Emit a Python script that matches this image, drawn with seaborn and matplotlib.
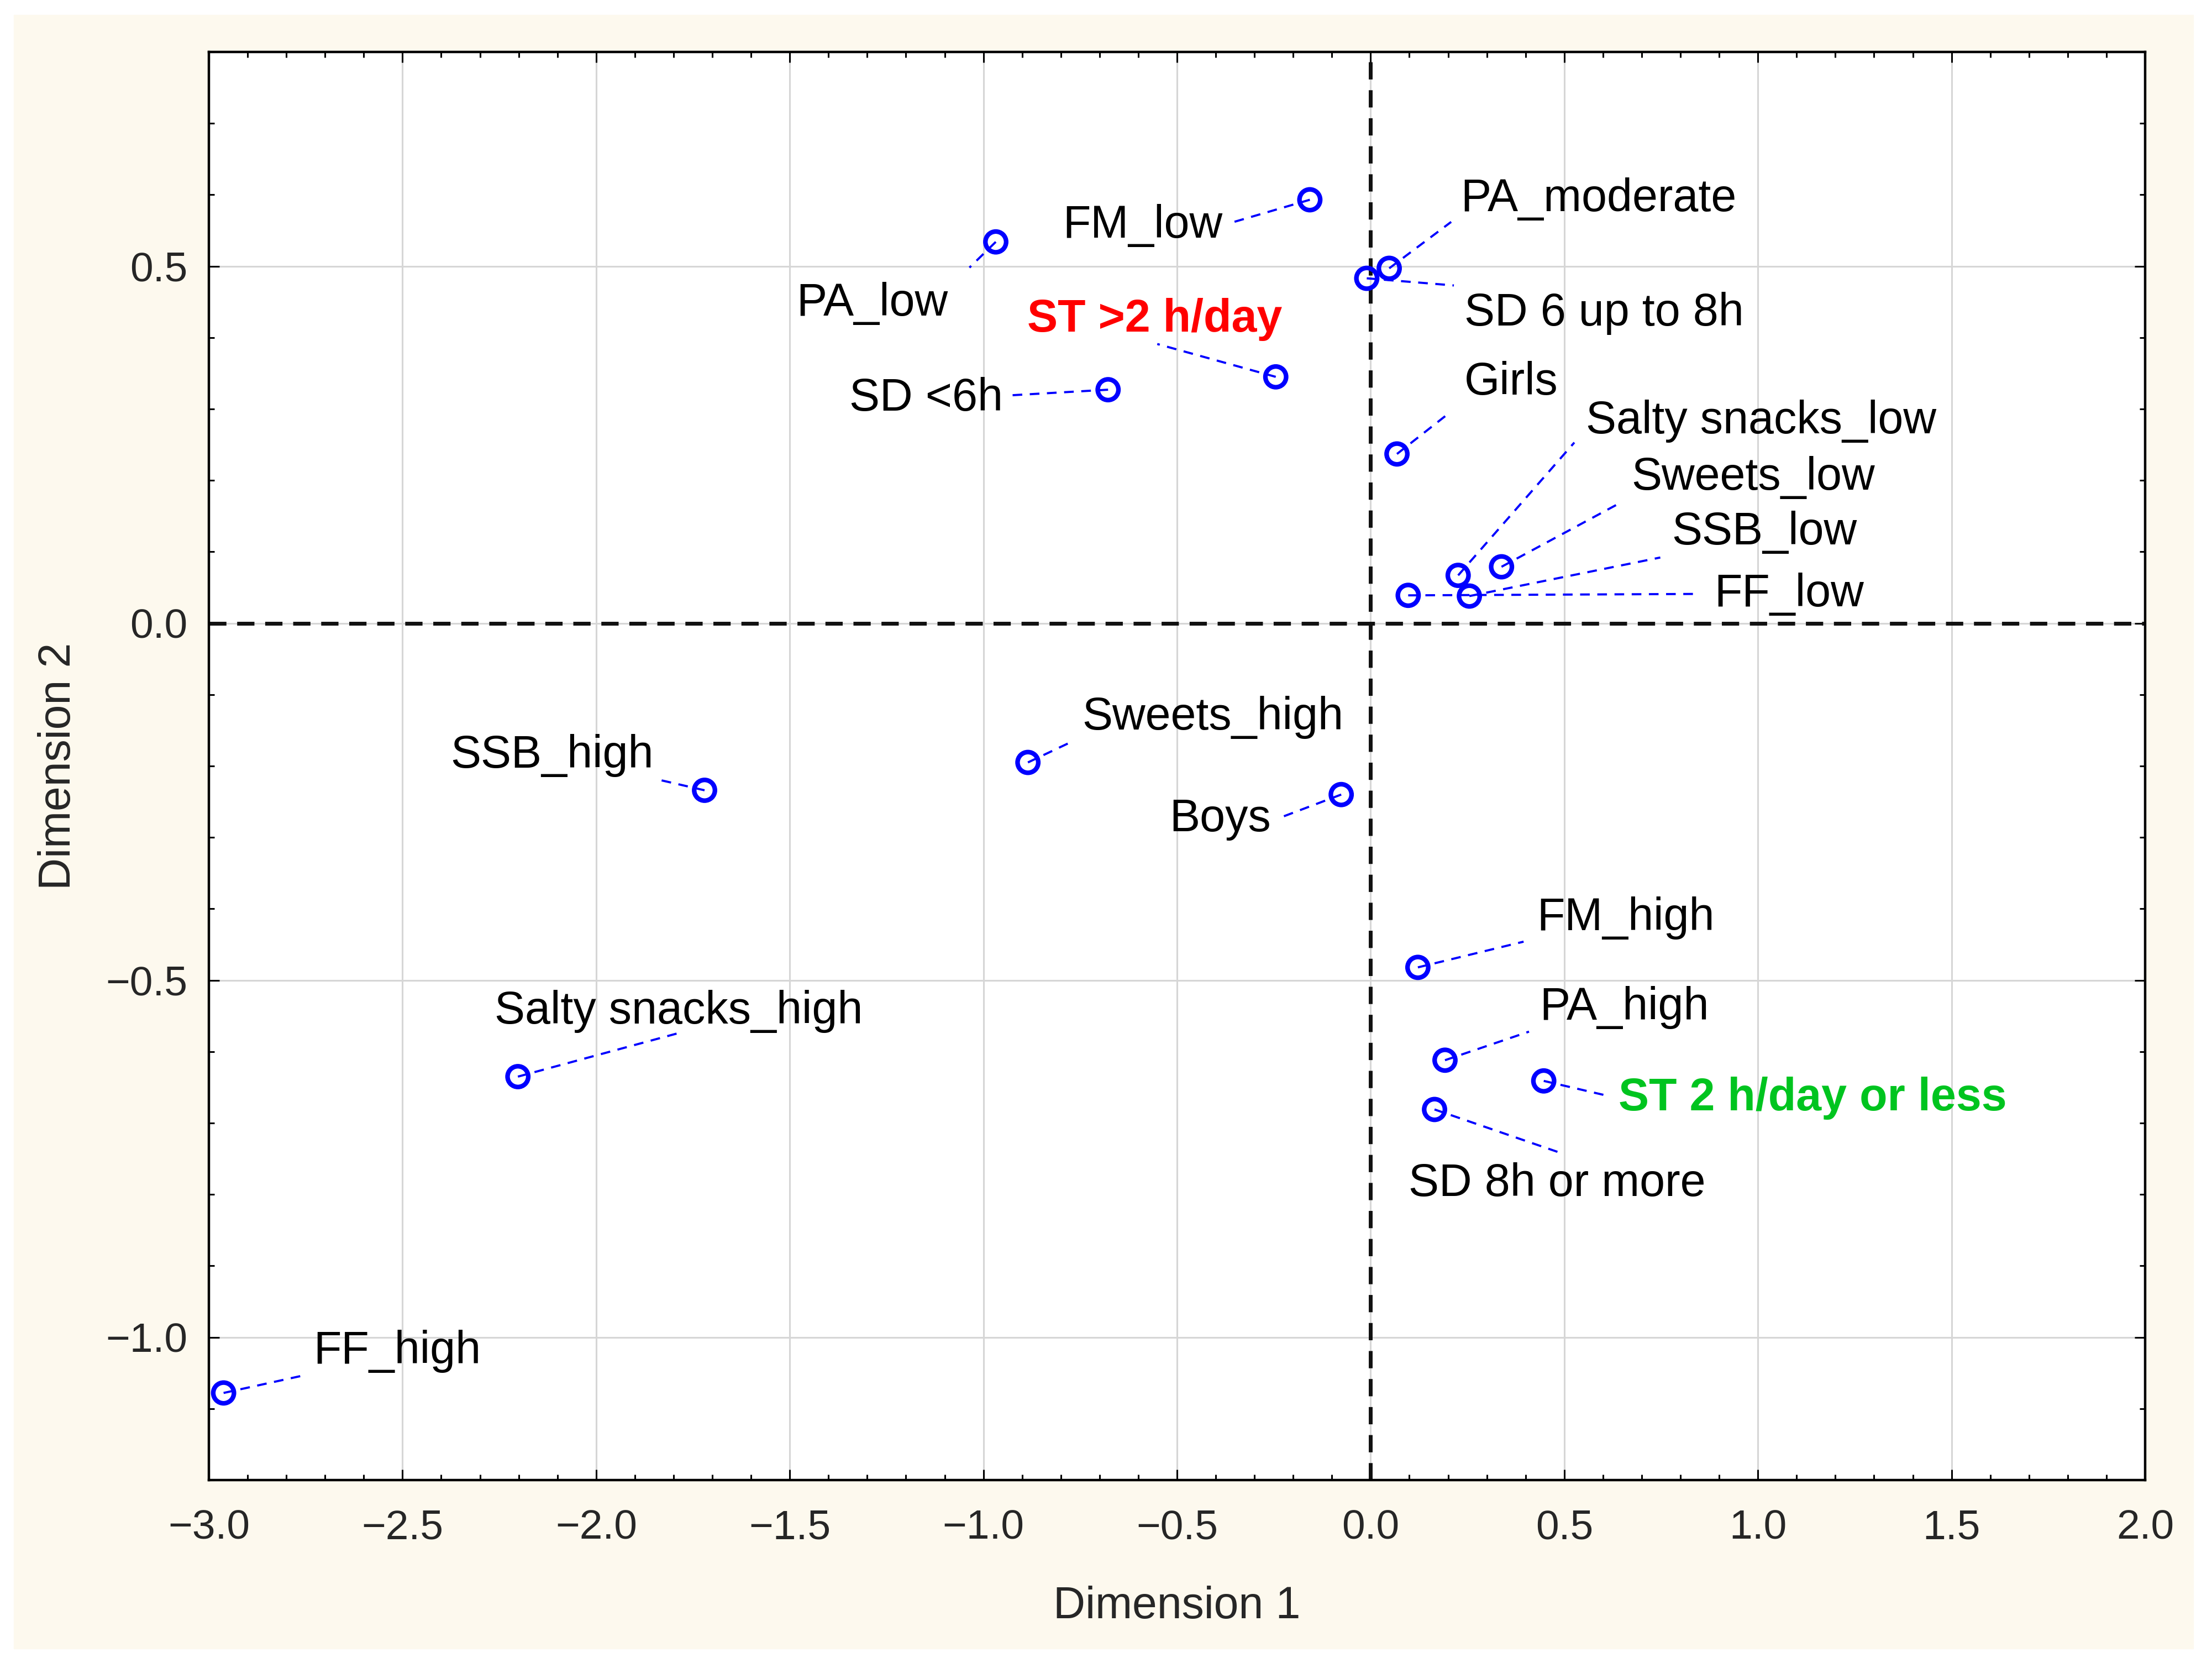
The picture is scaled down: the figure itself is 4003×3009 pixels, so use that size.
import matplotlib
matplotlib.use("Agg")
import matplotlib.pyplot as plt
import matplotlib.patches as patches
from matplotlib.ticker import MultipleLocator, FuncFormatter
import pandas as pd
import seaborn as sb

# category coordinates (correspondence analysis map)
categories = ["FF_high", "Salty snacks_high", "SSB_high", "Sweets_high", "Boys",
              "FM_high", "PA_high", "ST 2 h/day or less", "SD 8h or more",
              "FF_low", "SSB_low", "Sweets_low", "Salty snacks_low", "Girls",
              "SD 6 up to 8h", "PA_moderate", "FM_low", "PA_low",
              "ST >2 h/day", "SD <6h"]
dim1 = [-2.962, -2.202, -1.720, -0.885, -0.076,
        0.122, 0.192, 0.447, 0.165,
        0.097, 0.255, 0.338, 0.226, 0.068,
        -0.010, 0.048, -0.157, -0.968,
        -0.245, -0.678]
dim2 = [-1.078, -0.635, -0.234, -0.195, -0.240,
        -0.482, -0.612, -0.641, -0.681,
        0.039, 0.038, 0.079, 0.067, 0.237,
        0.483, 0.497, 0.593, 0.534,
        0.345, 0.327]

# label placement: (text left, text baseline), leader line end
labelPos = {
  "FF_high":            ((-2.730, -1.037), (-2.760, -1.054)),
  "Salty snacks_high":  ((-2.262, -0.561), (-1.787, -0.574)),
  "SSB_high":           ((-2.376, -0.202), (-1.840, -0.219)),
  "Sweets_high":        ((-0.745, -0.149), (-0.772, -0.166)),
  "Boys":               ((-0.519, -0.291), (-0.232, -0.272)),
  "FM_high":            ((0.429, -0.430), (0.395, -0.446)),
  "PA_high":            ((0.436, -0.555), (0.409, -0.572)),
  "ST 2 h/day or less": ((0.640, -0.682), (0.613, -0.662)),
  "SD 8h or more":      ((0.098, -0.802), (0.486, -0.741)),
  "FF_low":             ((0.888, 0.024), (0.850, 0.041)),
  "SSB_low":            ((0.777, 0.110), (0.748, 0.092)),
  "Sweets_low":         ((0.673, 0.187), (0.646, 0.169)),
  "Salty snacks_low":   ((0.556, 0.266), (0.526, 0.253)),
  "Girls":              ((0.242, 0.320), (0.195, 0.291)),
  "SD 6 up to 8h":      ((0.242, 0.417), (0.215, 0.473)),
  "PA_moderate":        ((0.233, 0.577), (0.208, 0.562)),
  "FM_low":             ((-0.795, 0.540), (-0.359, 0.561)),
  "PA_low":             ((-1.483, 0.431), (-1.036, 0.498)),
  "ST >2 h/day":        ((-0.887, 0.408), (-0.551, 0.391)),
  "SD <6h":             ((-1.346, 0.298), (-0.934, 0.319)),
}
highlight = {"ST >2 h/day": "#ff0000", "ST 2 h/day or less": "#00c41f"}

df = pd.DataFrame({"Category": categories, "Dimension 1": dim1, "Dimension 2": dim2})

sb.set_style("ticks")
plt.rcParams["font.family"] = ["Liberation Sans", "DejaVu Sans"]

fig = plt.figure(figsize=(40.03, 30.09), dpi=100)
fig.patch.set_facecolor("white")
fig.patches.append(patches.Rectangle((25 / 4003, 1 - 2983 / 3009), 3944 / 4003, 2956 / 3009,
                                     transform=fig.transFigure, color="#fdf9ee", zorder=-5))
ax = fig.add_axes([378 / 4003, 1 - 2678 / 3009, 3504 / 4003, 2584 / 3009])
ax.set_facecolor("white")

#grid and zero lines
ax.grid(True, which="major", color="#d6d6d6", linewidth=2.2)
ax.axhline(0, color="#111111", linewidth=5, dashes=(4.5, 2.8), zorder=2)
ax.axvline(0, color="#111111", linewidth=5, dashes=(4.5, 2.8), zorder=2)

#leader lines and labels
for cat, x, y in zip(categories, dim1, dim2):
  (tx, ty), (ex, ey) = labelPos[cat]
  ax.plot([x, ex], [y, ey], color="#0000ff", linewidth=2.8, dashes=(4.5, 3.5), zorder=3)
  color = highlight.get(cat, "black")
  weight = "bold" if cat in highlight else "normal"
  ax.text(tx, ty, cat, fontsize=59.5, color=color, fontweight=weight,
          ha="left", va="baseline", zorder=4)

sb.scatterplot(data=df, x="Dimension 1", y="Dimension 2", ax=ax, marker="o",
               s=27 ** 2, facecolors="none", edgecolor="#0000ff", linewidth=6, zorder=5)

ax.set_xlim(-3.0, 2.0)
ax.set_ylim(-1.2, 0.8)
ax.xaxis.set_major_locator(MultipleLocator(0.5))
ax.xaxis.set_minor_locator(MultipleLocator(0.1))
ax.yaxis.set_major_locator(MultipleLocator(0.5))
ax.yaxis.set_minor_locator(MultipleLocator(0.1))
fmt = FuncFormatter(lambda v, pos: f"{v:.1f}".replace("-", "\u2212"))
ax.xaxis.set_major_formatter(fmt)
ax.yaxis.set_major_formatter(fmt)

ax.tick_params(which="both", direction="in", top=True, right=True, width=2.2, color="black")
ax.tick_params(which="major", length=14)
ax.tick_params(which="minor", length=7)
ax.tick_params(axis="x", which="major", labelsize=54, pad=38)
ax.tick_params(axis="y", which="major", labelsize=54, pad=28)

for s in ax.spines.values():
  s.set_linewidth(3.2)
  s.set_color("black")
  s.set_visible(True)

ax.set_xlabel("Dimension 1", fontsize=58, labelpad=50)
ax.set_ylabel("Dimension 2", fontsize=58, labelpad=34)

fig.savefig("out.png", dpi=100, facecolor="white")
